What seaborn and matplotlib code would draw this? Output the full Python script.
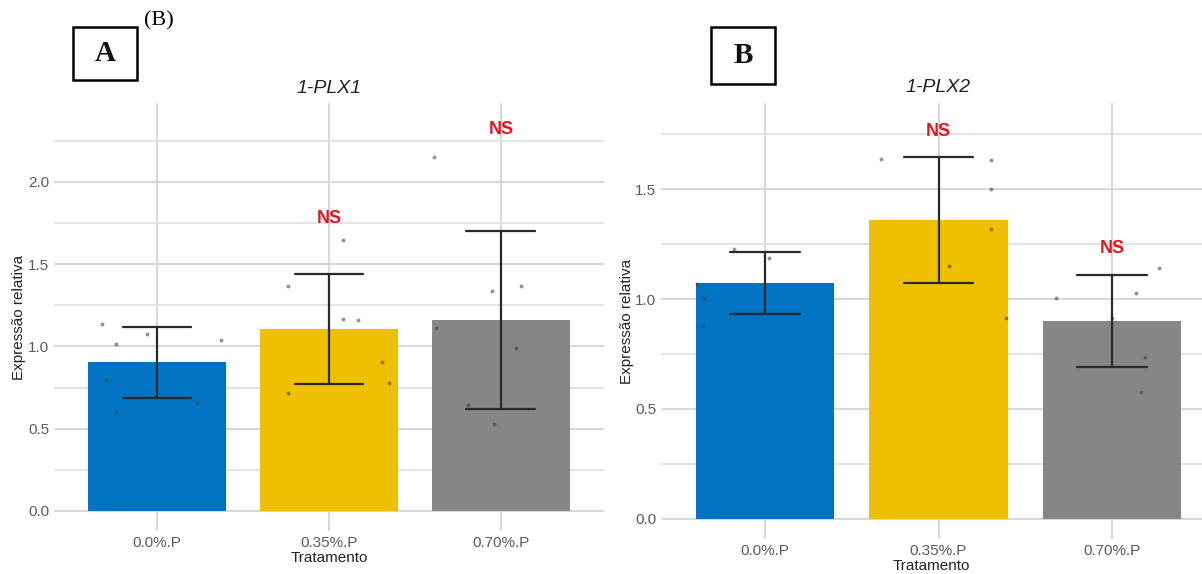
import numpy as np
import pandas as pd
import matplotlib
matplotlib.use("Agg")
import matplotlib.pyplot as plt
import matplotlib.transforms as mtransforms
from matplotlib.patches import Rectangle
import seaborn as sns

# ---- data ----
categories = ["0.0%.P", "0.35%.P", "0.70%.P"]
colors = ["#0073C2", "#EFC000", "#868686"]

# 1-PLX1: individual samples per treatment
plx1_values = [
    [1.139, 1.013, 1.076, 1.041, 0.796, 0.657, 0.604],
    [1.37, 1.65, 1.17, 1.16, 0.905, 0.78, 0.72],
    [2.15, 1.34, 1.37, 1.11, 0.99, 0.645, 0.53],
]
plx1_jitter = [
    [-0.32, -0.24, -0.06, 0.37, -0.30, 0.23, -0.24],
    [-0.24, 0.08, 0.08, 0.17, 0.31, 0.35, -0.24],
    [-0.39, -0.05, 0.12, -0.38, 0.09, -0.19, -0.04],
]
plx1_ns_y = [None, 1.78, 2.32]

# 1-PLX2
plx2_values = [
    [1.228, 1.187, 1.006, 0.877, 1.07],
    [1.636, 1.633, 1.50, 1.319, 1.152, 0.915],
    [1.143, 1.026, 1.006, 0.915, 0.737, 0.576],
]
plx2_jitter = [
    [-0.18, 0.02, -0.35, -0.36, -0.39],
    [-0.33, 0.30, 0.30, 0.30, 0.06, 0.39],
    [0.27, 0.14, -0.32, 0.00, 0.19, 0.17],
]
plx2_ns_y = [None, 1.765, 1.232]

SANS = "Liberation Sans"
SERIF = "Liberation Serif"


def to_frame(values):
    rows = []
    for cat, vals in zip(categories, values):
        for v in vals:
            rows.append({"Tratamento": cat, "expr": v})
    return pd.DataFrame(rows)


def draw_panel(ax, values, jitter, ns_y, title, ylim, xlim, yticks, ypad):
    df = to_frame(values)
    # bars = mean, error bars = mean +/- SD
    sns.barplot(
        data=df, x="Tratamento", y="expr", hue="Tratamento",
        order=categories, hue_order=categories, palette=colors,
        errorbar="sd", capsize=0.4, saturation=1, width=0.8,
        err_kws={"color": "#2a2a2a", "linewidth": 1.6},
        linewidth=0, legend=False, ax=ax,
    )
    for i, (vals, jit) in enumerate(zip(values, jitter)):
        ax.scatter(np.array(jit) + i, vals, s=8, color="#3a3a3a",
                   alpha=0.55, linewidths=0, zorder=1.5)

    for i, y in enumerate(ns_y):
        if y is not None:
            ax.text(i, y, "NS", color="#E5151E", fontsize=13,
                    fontweight="bold", ha="center", va="center",
                    family=SANS)

    trans = mtransforms.blended_transform_factory(ax.transData, ax.transAxes)
    ax.text(1, 1.015, title, transform=trans, ha="center", va="bottom",
            fontsize=14, style="italic", color="#222222", family=SANS)

    ax.set_ylim(*ylim)
    ax.set_xlim(*xlim)
    ax.set_yticks(yticks)
    ax.set_yticklabels([f"{t:.1f}" for t in yticks])
    ax.set_yticks(np.arange(0.25, ylim[1], 0.5), minor=True)
    ax.set_axisbelow(True)
    ax.grid(True, which="major", color="#D9D9D9", linewidth=1.5)
    ax.grid(True, which="minor", axis="y", color="#DEDEDE", linewidth=1.2)
    ax.tick_params(which="both", length=0, labelsize=11, colors="#5a5a5a")
    for lab in ax.get_xticklabels() + ax.get_yticklabels():
        lab.set_family(SANS)
    for s in ax.spines.values():
        s.set_visible(False)
    ax.set_xlabel("Tratamento", fontsize=11, color="#222222", family=SANS,
                  labelpad=1)
    ax.set_ylabel("Expressão relativa", fontsize=11, color="#222222",
                  family=SANS, labelpad=ypad)


sns.set_theme(style="white")
plt.rcParams["font.family"] = [SANS, "DejaVu Sans"]

fig = plt.figure(figsize=(12.02, 5.74), dpi=100)
ax1 = fig.add_axes([0.0449, 0.0749, 0.4576, 0.7456])
ax2 = fig.add_axes([0.5499, 0.0610, 0.4501, 0.7596])

draw_panel(ax1, plx1_values, plx1_jitter, plx1_ns_y, "1-PLX1",
           (-0.122, 2.48), (-0.6, 2.6), [0.0, 0.5, 1.0, 1.5, 2.0], 1.5)
draw_panel(ax2, plx2_values, plx2_jitter, plx2_ns_y, "1-PLX2",
           (-0.093, 1.893), (-0.6, 2.519), [0.0, 0.5, 1.0, 1.5], 1.0)

# panel letters
W, H = 1202, 574
for (x0, y0, x1, y1, letter) in [(73, 27, 137, 80, "A"), (711, 27, 775, 84, "B")]:
    fig.patches.append(Rectangle((x0 / W, 1 - y1 / H), (x1 - x0) / W,
                                 (y1 - y0) / H, transform=fig.transFigure,
                                 fill=False, edgecolor="black", linewidth=1.8))
    fig.text((x0 + x1) / 2 / W, 1 - (y0 + y1) / 2 / H, letter,
             ha="center", va="center", fontsize=21, fontweight="bold",
             family=SERIF, color="#111111")
fig.text(159 / W, 1 - 21 / H, "(B)", ha="center", va="center",
         fontsize=16, family=SERIF, color="black")

fig.savefig("out.png", dpi=100)
